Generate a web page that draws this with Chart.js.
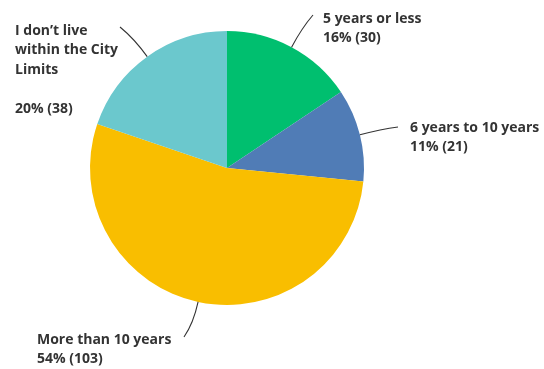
<!DOCTYPE html>
<html>
<head>
<meta charset="utf-8">
<script src="https://cdn.jsdelivr.net/npm/chart.js@4"></script>
<style>
  html, body { margin: 0; padding: 0; background: #ffffff; }
  #wrap { width: 544px; height: 369px; position: relative; }
</style>
</head>
<body>
<div id="wrap"><canvas id="chart"></canvas></div>
<script>
// Answer categories and response counts
const categories = [
  "5 years or less",
  "6 years to 10 years",
  "More than 10 years",
  "I don't live within the City Limits"
];
const counts = [30, 21, 103, 38];
const sliceColors = ["#00bf6f", "#507cb6", "#f9be00", "#6bc8cd"];

// Text lines shown beside each slice (category wording, then share and count)
const labelLines = [
  ["5 years or less"],
  ["6 years to 10 years"],
  ["More than 10 years"],
  ["I don\u2019t live", "within the City", "Limits", ""]
];

// Where each callout's text block sits and where its leader line ends
const callouts = [
  { x: 323, y: 23, lineEnd: [313, 15] },
  { x: 410, y: 132, lineEnd: [398, 127] },
  { x: 37, y: 344, lineEnd: [184, 337] },
  { x: 15, y: 35, lineEnd: [120, 27] }
];

const total = counts.reduce((a, b) => a + b, 0);

const calloutPlugin = {
  id: 'callouts',
  afterDatasetsDraw(chart, args, opts) {
    const ctx = chart.ctx;
    const meta = chart.getDatasetMeta(0);
    meta.data.forEach((arc, i) => {
      const p = arc.getProps(['x', 'y', 'startAngle', 'endAngle', 'outerRadius'], true);
      const mid = (p.startAngle + p.endAngle) / 2;
      const ux = Math.cos(mid), uy = Math.sin(mid);
      const sx = p.x + ux * p.outerRadius;
      const sy = p.y + uy * p.outerRadius;
      const c = opts.items[i];
      const cx = sx + ux * 22;
      const cy = sy + uy * 22;
      ctx.save();
      ctx.strokeStyle = '#333333';
      ctx.lineWidth = 1.1;
      ctx.beginPath();
      ctx.moveTo(sx, sy);
      ctx.quadraticCurveTo(cx, cy, c.lineEnd[0], c.lineEnd[1]);
      ctx.stroke();

      const value = counts[i];
      const pct = Math.round(value / total * 100);
      const lines = labelLines[i].concat([pct + '% (' + value + ')']);
      ctx.fillStyle = '#333333';
      ctx.font = 'bold 14px "Open Sans", sans-serif';
      ctx.textAlign = 'left';
      ctx.textBaseline = 'alphabetic';
      lines.forEach((t, k) => ctx.fillText(t, c.x, c.y + k * 19.4));
      ctx.restore();
    });
  }
};

new Chart(document.getElementById('chart'), {
  type: 'pie',
  data: {
    labels: categories,
    datasets: [{
      data: counts,
      backgroundColor: sliceColors,
      borderWidth: 0,
      hoverOffset: 0
    }]
  },
  options: {
    responsive: true,
    maintainAspectRatio: false,
    animation: false,
    layout: { padding: { top: 31, bottom: 64, left: 90, right: 180 } },
    plugins: {
      legend: { display: false },
      tooltip: { enabled: false },
      callouts: { items: callouts }
    }
  },
  plugins: [calloutPlugin]
});
</script>
</body>
</html>
